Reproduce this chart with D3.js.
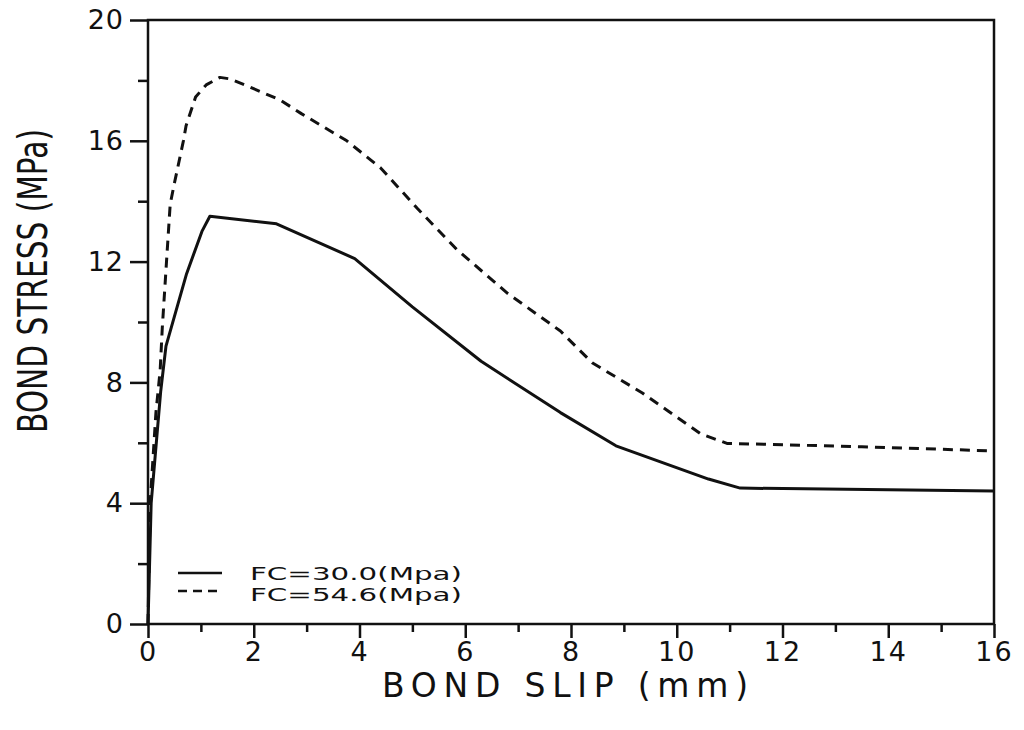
<!DOCTYPE html>
<html>
<head>
<meta charset="utf-8">
<script src="https://cdn.jsdelivr.net/npm/d3@7"></script>
<style>
  body { margin: 0; background: #fff; }
  svg { display: block; }
  text { font-family: 'DejaVu Sans', 'Liberation Sans', sans-serif; fill: #111; }
  .axis line { stroke: #111; stroke-width: 2.5; }
  .axis text { font-size: 27px; }
</style>
</head>
<body>
<svg id="chart" width="1024" height="730"></svg>
<script>
// bond slip (mm) vs bond stress (MPa)
const slipFc30 = [0, 0.06, 0.24, 0.34, 0.73, 1.02, 1.17, 2.43, 3.91, 5.0, 6.3, 7.8, 8.85, 10.6, 11.2, 16];
const stressFc30 = [0, 4.0, 7.7, 9.2, 11.6, 13.0, 13.5, 13.25, 12.1, 10.5, 8.7, 7.0, 5.9, 4.8, 4.5, 4.4];

const slipFc546 = [0, 0.04, 0.15, 0.23, 0.27, 0.35, 0.42, 0.5, 0.67, 0.72, 0.9, 1.1, 1.36, 1.55, 1.9, 2.5, 2.9, 3.76, 4.4, 5.1, 5.84, 6.8, 7.8, 8.4, 9.35, 10.45, 10.95, 13.5, 16];
const stressFc546 = [0, 4.0, 7.0, 8.4, 9.8, 12.0, 13.9, 14.6, 16.0, 16.5, 17.45, 17.85, 18.1, 18.05, 17.8, 17.35, 16.9, 16.0, 15.1, 13.75, 12.4, 10.95, 9.7, 8.65, 7.65, 6.3, 5.98, 5.87, 5.73];

const seriesNames = ['FC=30.0(Mpa)', 'FC=54.6(Mpa)'];
const xMajorTicks = [0, 2, 4, 6, 8, 10, 12, 14, 16];
const xMinorTicks = [1, 3, 5, 7, 9, 11, 13, 15];
const yMajorTicks = [0, 4, 8, 12, 16, 20];
const yMinorTicks = [2, 6, 10, 14, 18];

const svg = d3.select('#chart');
const margins = { left: 148, top: 20, right: 30, bottom: 106 };
const w = 1024, h = 730;

const x = d3.scaleLinear().domain([0, 16]).range([margins.left, w - margins.right]);
const y = d3.scaleLinear().domain([0, 20]).range([h - margins.bottom, margins.top]);

const zip = function (xs, ys) {
  return xs.map(function (d, i) { return { slip: d, stress: ys[i] }; });
};
const data = [
  { name: seriesNames[0], values: zip(slipFc30, stressFc30), dash: null },
  { name: seriesNames[1], values: zip(slipFc546, stressFc546), dash: '10,7' }
];

// minor ticks first (no labels)
svg.append('g')
  .attr('class', 'axis')
  .attr('transform', 'translate(0,' + y(0) + ')')
  .call(d3.axisBottom(x).tickValues(xMinorTicks).tickSize(8).tickFormat(''))
  .call(function (g) { g.select('.domain').remove(); });

svg.append('g')
  .attr('class', 'axis')
  .attr('transform', 'translate(0,' + y(0) + ')')
  .call(d3.axisBottom(x).tickValues(xMajorTicks).tickSize(14).tickPadding(4).tickFormat(d3.format('d')))
  .call(function (g) {
    g.select('.domain').remove();
    g.selectAll('text').style('letter-spacing', '2px');
  });

svg.append('g')
  .attr('class', 'axis')
  .attr('transform', 'translate(' + x(0) + ',0)')
  .call(d3.axisLeft(y).tickValues(yMinorTicks).tickSize(10).tickFormat(''))
  .call(function (g) { g.select('.domain').remove(); });

svg.append('g')
  .attr('class', 'axis')
  .attr('transform', 'translate(' + x(0) + ',0)')
  .call(d3.axisLeft(y).tickValues(yMajorTicks).tickSize(18).tickPadding(6).tickFormat(d3.format('d')))
  .call(function (g) {
    g.select('.domain').remove();
    g.selectAll('text').style('letter-spacing', '1px');
  });

// frame
svg.append('rect')
  .attr('x', x(0))
  .attr('y', y(20))
  .attr('width', x(16) - x(0))
  .attr('height', y(0) - y(20))
  .attr('fill', 'none')
  .attr('stroke', '#111')
  .attr('stroke-width', 2.5);

const line = d3.line()
  .x(function (d) { return x(d.slip); })
  .y(function (d) { return y(d.stress); });

svg.selectAll('.series')
  .data(data)
  .enter()
  .append('path')
  .attr('class', 'series')
  .attr('d', function (d) { return line(d.values); })
  .attr('fill', 'none')
  .attr('stroke', '#111')
  .attr('stroke-width', 3)
  .attr('stroke-linejoin', 'round')
  .attr('stroke-dasharray', function (d) { return d.dash; });

// legend
const legend = svg.append('g')
  .attr('transform', 'translate(178,573)');

data.forEach(function (d, i) {
  legend.append('line')
    .attr('x1', 0)
    .attr('x2', 44)
    .attr('y1', i * 18)
    .attr('y2', i * 18)
    .attr('stroke', '#111')
    .attr('stroke-width', 2.5)
    .attr('stroke-dasharray', d.dash ? '9,6' : null);
  legend.append('text')
    .attr('x', 72)
    .attr('y', i * 21 + 7)
    .attr('textLength', 212)
    .attr('lengthAdjust', 'spacingAndGlyphs')
    .style('font-size', '18px')
    .text(d.name);
});

// axis titles
svg.append('text')
  .attr('x', 382)
  .attr('y', 697)
  .attr('textLength', 366)
  .attr('lengthAdjust', 'spacing')
  .style('font-size', '33px')
  .text('BOND SLIP (mm)');

svg.append('text')
  .attr('transform', 'translate(47,281) rotate(-90)')
  .attr('text-anchor', 'middle')
  .attr('textLength', 304)
  .attr('lengthAdjust', 'spacingAndGlyphs')
  .style('font-size', '41px')
  .text('BOND STRESS (MPa)');
</script>
</body>
</html>
